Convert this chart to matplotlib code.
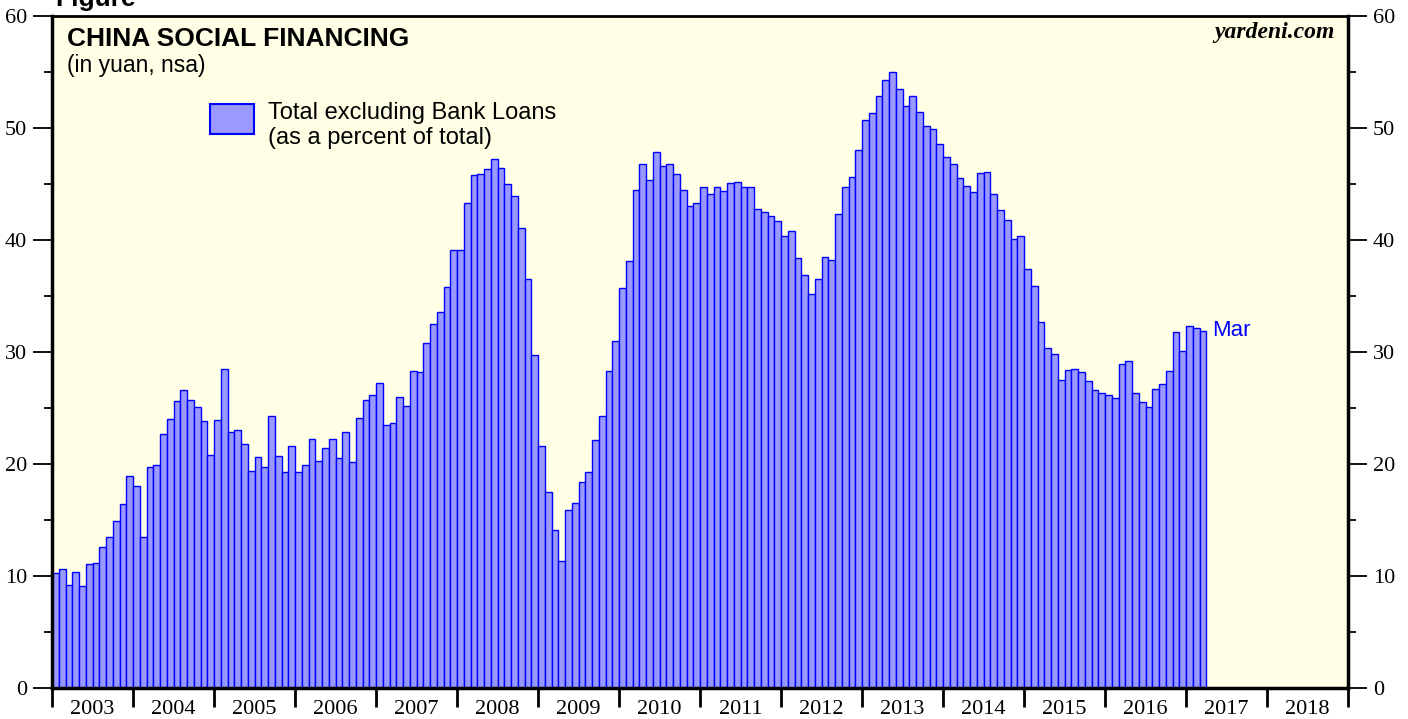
import numpy as np
import matplotlib.pyplot as plt
from matplotlib.patches import Rectangle
from matplotlib.ticker import FixedLocator, MultipleLocator

# monthly values, Jan 2003 .. Mar 2017 (percent of total social financing)
y2003 = [10.3, 10.6, 9.2, 10.4, 9.1, 11.1, 11.2, 12.6, 13.5, 14.9, 16.4, 18.9]
y2004 = [18.0, 13.5, 19.7, 19.9, 22.7, 24.0, 25.6, 26.6, 25.7, 25.1, 23.8, 20.8]
y2005 = [23.9, 28.5, 22.9, 23.0, 21.8, 19.4, 20.6, 19.7, 24.3, 20.7, 19.3, 21.6]
y2006 = [19.3, 19.9, 22.2, 20.3, 21.4, 22.2, 20.5, 22.9, 20.2, 24.1, 25.7, 26.2]
y2007 = [27.2, 23.5, 23.7, 26.0, 25.2, 28.3, 28.2, 30.8, 32.5, 33.6, 35.8, 39.1]
y2008 = [39.1, 43.3, 45.8, 45.9, 46.3, 47.2, 46.4, 45.0, 43.9, 41.1, 36.5, 29.7]
y2009 = [21.6, 17.5, 14.1, 11.3, 15.9, 16.5, 18.4, 19.3, 22.1, 24.3, 28.3, 31.0]
y2010 = [35.7, 38.1, 44.5, 46.8, 45.4, 47.9, 46.6, 46.8, 45.9, 44.5, 43.0, 43.3]
y2011 = [44.7, 44.1, 44.7, 44.4, 45.1, 45.2, 44.7, 44.7, 42.8, 42.5, 42.1, 41.7]
y2012 = [40.4, 40.8, 38.4, 36.9, 35.2, 36.5, 38.5, 38.2, 42.3, 44.7, 45.6, 48.0]
y2013 = [50.7, 51.3, 52.9, 54.3, 55.0, 53.5, 52.0, 52.9, 51.4, 50.2, 49.9, 48.6]
y2014 = [47.4, 46.8, 45.5, 44.8, 44.3, 46.0, 46.1, 44.1, 42.7, 41.8, 40.1, 40.4]
y2015 = [37.4, 35.9, 32.7, 30.4, 29.8, 27.5, 28.4, 28.5, 28.2, 27.4, 26.6, 26.3]
y2016 = [26.2, 25.9, 28.9, 29.2, 26.3, 25.5, 25.1, 26.7, 27.1, 28.3, 31.8, 30.1]
y2017 = [32.3, 32.1, 31.9]

years = list(range(2003, 2019))
values = (y2003 + y2004 + y2005 + y2006 + y2007 + y2008 + y2009 + y2010
          + y2011 + y2012 + y2013 + y2014 + y2015 + y2016 + y2017)

fill = "#9999FF"
edge = "#0000FF"
bg = "#FFFFE5"
serif = ["Liberation Serif", "DejaVu Serif"]
sans = ["Liberation Sans", "DejaVu Sans"]

fig = plt.figure(figsize=(14.08, 7.19), dpi=100)
ax = fig.add_axes([52 / 1408, 1 - 688 / 719, 1296 / 1408, 672 / 719])
ax.set_facecolor(bg)

x = np.arange(len(values))
ax.bar(x, values, width=1.0, align="edge", color=fill, edgecolor=edge, linewidth=1.0, zorder=2)

ax.set_xlim(0, 12 * len(years))
ax.set_ylim(0, 60)

for s in ax.spines.values():
    s.set_linewidth(2.5)
    s.set_color("black")
ax.spines["top"].set_linewidth(2)

# y axis on both sides
ax.yaxis.set_major_locator(MultipleLocator(10))
ax.yaxis.set_minor_locator(MultipleLocator(5))
ax.tick_params(axis="y", which="major", direction="out", length=14, width=1.3,
               left=True, right=True, labelleft=True, labelright=True,
               labelsize=16, pad=4)
ax.tick_params(axis="y", which="minor", direction="out", length=6, width=1.3,
               left=True, right=True)
for lab in ax.get_yticklabels():
    lab.set_fontfamily(serif)

# x axis: year boundaries as ticks, labels centered in each year
ax.xaxis.set_major_locator(FixedLocator([12 * i for i in range(len(years) + 1)]))
ax.xaxis.set_minor_locator(FixedLocator([12 * i + 6 for i in range(len(years))]))
ax.tick_params(axis="x", which="major", direction="out", length=14, width=2, labelbottom=False)
ax.tick_params(axis="x", which="minor", length=0, labelsize=16, pad=9)
ax.set_xticklabels([str(y) for y in years], minor=True, fontfamily=serif)

# titles
ax.text(0.0116, 0.9554, "CHINA SOCIAL FINANCING", transform=ax.transAxes, fontsize=19,
        fontweight="bold", fontfamily=sans, va="baseline", ha="left")
ax.text(0.0116, 0.9167, "(in yuan, nsa)", transform=ax.transAxes, fontsize=16.5,
        fontfamily=sans, va="baseline", ha="left")
ax.text(0.990, 0.967, "yardeni.com", transform=ax.transAxes, fontsize=17,
        fontweight="bold", fontstyle="italic", fontfamily=serif, va="baseline", ha="right")

# legend drawn by hand
ax.add_patch(Rectangle((0.1219, 0.8244), 0.034, 0.0446, transform=ax.transAxes,
                       facecolor=fill, edgecolor=edge, linewidth=1.5, zorder=3))
ax.text(0.1667, 0.8472, "Total excluding Bank Loans", transform=ax.transAxes,
        fontsize=17, fontfamily=sans, va="baseline", ha="left")
ax.text(0.1667, 0.8095, "(as a percent of total)", transform=ax.transAxes,
        fontsize=17, fontfamily=sans, va="baseline", ha="left")

# label at the last bar
ax.text(len(values) + 0.8, values[-1], "Mar", color=edge, fontsize=16,
        fontfamily=sans, va="center", ha="left")

fig.text(0.039, 1 - 6 / 719, "Figure", fontsize=19, fontweight="bold",
         fontfamily=sans, va="baseline", ha="left")

fig.savefig("out.png", dpi=100, facecolor="white")
